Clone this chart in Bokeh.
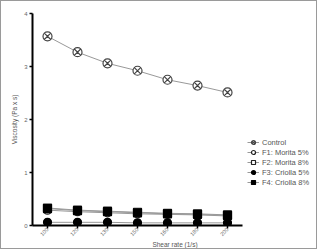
import math
from bokeh.plotting import figure
from bokeh.models import FixedTicker, Legend, LegendItem, ColumnDataSource, Range1d
from bokeh.embed import file_html
from bokeh.resources import INLINE

shear_rates = ["100", "120", "130", "150", "160", "180", "200"]
control = [3.57, 3.27, 3.06, 2.92, 2.75, 2.64, 2.51]
f1_morita5 = [0.29, 0.26, 0.24, 0.22, 0.21, 0.20, 0.18]
f2_morita8 = [0.33, 0.29, 0.27, 0.25, 0.23, 0.22, 0.20]
f3_criolla5 = [0.06, 0.06, 0.06, 0.05, 0.05, 0.05, 0.05]
f4_criolla8 = [0.32, 0.28, 0.26, 0.24, 0.22, 0.21, 0.19]
y_ticks = [0, 1, 2, 3, 4]

FONT = "Liberation Sans"
xpos = list(range(len(shear_rates)))  # category slots

p = figure(width=317, height=249, x_range=Range1d(-0.5, 9.0), y_range=Range1d(0, 4),
           output_backend="svg", toolbar_location=None,
           min_border_left=31, min_border_right=1, min_border_top=12, min_border_bottom=24)
p.styles = {"border": "1px solid #9a9a9a"}
p.outline_line_color = None
p.grid.visible = False

series = [
    ("Control", control, "circle_x", "white", "#444444", 9),
    ("F1: Morita 5%", f1_morita5, "circle", "white", "#222222", 8),
    ("F2: Morita 8%", f2_morita8, "square", "white", "#222222", 8),
    ("F3: Criolla 5%", f3_criolla5, "circle", "black", "black", 8),
    ("F4: Criolla 8%", f4_criolla8, "square", "black", "black", 8),
]

items = []
for name, vals, marker, fill, stroke, size in series:
    src = ColumnDataSource(dict(x=xpos, y=vals))
    ln = p.line("x", "y", source=src, line_color="#999999", line_width=1)
    sc = p.scatter("x", "y", source=src, marker=marker, size=size,
                   fill_color=fill, line_color=stroke, line_width=1.2)
    items.append(LegendItem(label=name, renderers=[ln, sc]))

legend = Legend(items=items, location=(215, 38), padding=0, margin=0, spacing=0,
                glyph_width=12, glyph_height=10, label_height=10, label_standoff=3,
                label_text_font=FONT, label_text_font_size="7.5px", label_text_color="#555555",
                border_line_color=None, background_fill_alpha=0)
p.add_layout(legend, "center")

for ax in (p.xaxis[0], p.yaxis[0]):
    ax.axis_line_width = 2
    ax.axis_line_color = "black"
    ax.major_tick_line_color = "black"
    ax.major_tick_line_width = 1.5
    ax.major_tick_out = 3
    ax.major_tick_in = 0
    ax.minor_tick_line_color = None
    ax.major_label_text_font = FONT
    ax.major_label_text_font_size = "6px"
    ax.major_label_text_color = "#666666"
    ax.axis_label_text_font = FONT
    ax.axis_label_text_font_size = "6.5px"
    ax.axis_label_text_color = "#555555"
    ax.axis_label_text_font_style = "normal"
    ax.axis_label_text_line_height = 1.0
    ax.major_label_standoff = 2
    ax.axis_label_standoff = 3

p.yaxis[0].ticker = FixedTicker(ticks=y_ticks)
p.yaxis[0].axis_label = "Viscosity (Pa x s)"
xa = p.xaxis[0]
xa.ticker = FixedTicker(ticks=xpos)
xa.major_label_overrides = {i: s for i, s in zip(xpos, shear_rates)}
xa.bounds = (-0.5, len(shear_rates) - 0.5)
xa.axis_label = "Shear rate (1/s)"
xa.major_label_orientation = math.pi / 4
xa.major_label_text_font_size = "5.5px"
xa.major_label_text_line_height = 1.0
xa.major_label_standoff = 0
xa.axis_label_standoff = 0

open("out.html", "w").write(file_html(p, INLINE))
